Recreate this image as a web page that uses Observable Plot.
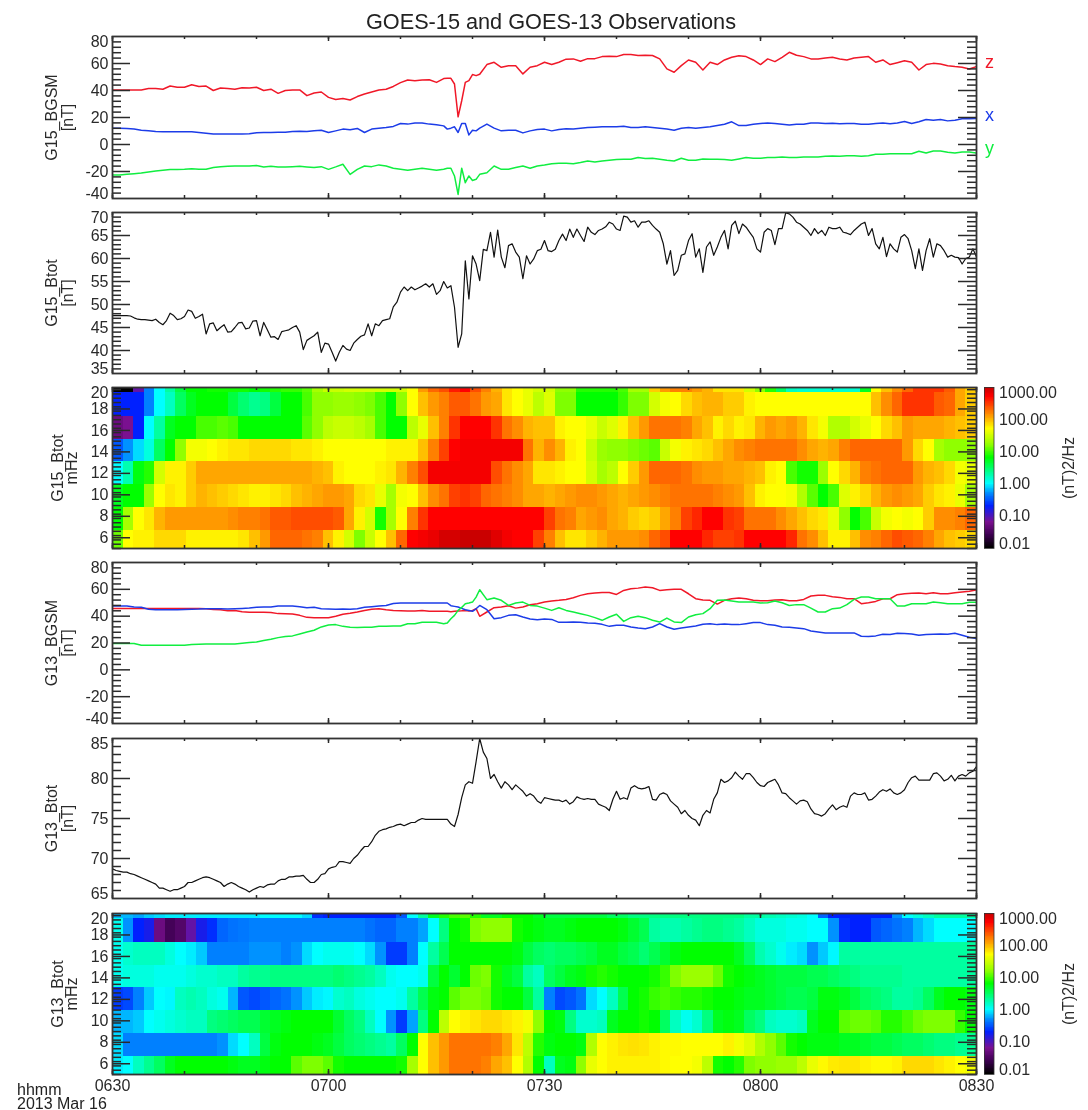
<!DOCTYPE html>
<html><head><meta charset="utf-8">
<style>
html,body{margin:0;padding:0;background:#fff}
#page{position:relative;width:1088px;height:1110px;overflow:hidden;filter:blur(.4px);font-family:"Liberation Sans",Arial,sans-serif;color:#222}
#page svg{position:absolute;background:transparent}
#title{position:absolute;left:0;width:1102px;top:8px;text-align:center;font-size:21.7px;line-height:28px;color:#222}
#stamp{position:absolute;left:17px;top:1083px;font-size:16px;line-height:13.5px;color:#222}
</style>
<script src="https://cdn.jsdelivr.net/npm/d3@7"></script>
<script src="https://cdn.jsdelivr.net/npm/@observablehq/plot@0.6"></script>
</head><body><div id="page"><div id="title">GOES-15 and GOES-13 Observations</div><div id="stamp">hhmm<br>2013 Mar 16</div></div>
<script>
// ---- time grids (minutes after 06:30)
const vecT = [...d3.range(0,47), 46.5,47,47.5,48,48.5,49,49.5,50,50.5, ...d3.range(51,121)].sort((a,b)=>a-b);
const vecTimes = [...new Set(vecT)];
const timeLabels = ["0630","0700","0730","0800","0830"];
const timeLabelMinutes = [0,30,60,90,120];

// ---- GOES-15 BGSM
const g15z = [40.4,40.4,40.4,40.4,40.4, 41.4,41.4,40.9,43.3,42.4, 42.4,44.3,42.9,43.3,40, 41.9,41.4,40.9,42.1,41.9,
 42.4,40,41,37.9,40, 40.4,40.4,36.2,38.2,38.9, 34.9,33.4,34,33,35.5, 37.4,38.9,40.4,40.9,43, 45.8,47.8,47.3,47.8,48, 46,48.8,
 49,49,44.8,20.5,32.4,46,47.3,51.8,51,
 52,59.2,60.9,57.2,58.4, 58.4,52.3,57.2,58.4,60.9, 59.2,60.9,63.2,63.4,61.7, 63.6,63.6,65.1,65.4,65.1, 66.6,66.6,65.9,66.1,65.9,
 63.4,56,53.5,58.4,62.6, 60.9,55.2,60.9,59.2,62.6, 64.6,65.8,65.1,62.6,59.2, 63.4,61.4,64.6,68.3,66.1, 65.1,63.4,63.4,64.1,64.6,
 63.4,62.6,64.1,64.6,65.1, 60.9,62.6,59.2,60.6,62.1, 60.9,55.2,59.2,60.1,59.7, 58.4,57.7,57.2,55.9,57.7];
const g15x = [12.1,12.1,11.9,11.4,10.6, 10.1,9.6,9.4,9.4,9.4, 9.4,9.4,8.9,8.4,7.7, 7.7,7.7,7.7,7.7,7.9, 8.7,8.9,8.9,9.1,9.1,
 9.6,9.9,9.6,10.1,10.6, 8.9,10.1,11.4,10.9,11.9, 8.9,11.4,12.1,12.6,13.4, 15.6,15.1,16,16,15.1, 14.6,13.8,
 11.4,12.1,13.1,8.9,15.6,15.6,7.1,10.6,10.1,
 12.1,15.1,12.1,10.1,10.6, 10.6,8.6,10.1,11.1,11.4, 10.1,11.1,11.6,11.4,12.1, 12.6,12.8,13.1,13.1,13.1, 13.6,12.6,12.6,13.1,12.6,
 12.1,11.4,10.6,12.1,12.6, 12.1,12.6,13.1,14,15, 16.8,14,14,15,15.5, 16,15.5,15,14.5,15, 15,16,16,15.5,15.8,
 15.3,15.5,15.5,15,15, 15.5,16,15.3,16,17, 15.5,16.8,18.5,18,18.5, 17.5,18,19,19,19.2];
const g15y = [-22.6,-22.6,-22.1,-21.6,-21.1, -20.3,-19.6,-19.1,-18.6,-18.6, -18.4,-17.9,-18.4,-18.4,-17.1, -16.4,-16.1,-15.9,-15.9,-15.9,
 -15.6,-16.6,-16.1,-16.6,-16.6, -16.4,-16.1,-16.6,-17.1,-16.4, -18.4,-16.6,-14.6,-22.1,-18.4, -15.9,-16.4,-15.1,-15.9,-17.6, -18.4,-19.1,-18.4,-17.6,-18.4, -19.1,-18.4,
 -17.6,-17.6,-23.3,-37,-17.6,-28.3,-23.3,-26.6,-25.8,
 -22.1,-20.9,-15.9,-18.4,-18.4, -17.1,-15.9,-17.6,-15.9,-15.2, -14.2,-13.9,-13.9,-14.2,-13.4, -12.2,-12.9,-12.2,-11.7,-11.2, -10.9,-10.9,-9.7,-10.4,-10.2,
 -10.9,-11.7,-12.2,-10.2,-11.7, -11.7,-10.7,-11,-11,-11.2, -11.7,-10.7,-9.7,-10.2,-10.2, -9.7,-9.7,-9.2,-9.7,-9.7, -9.2,-9.2,-9.2,-8.7,-8.5,
 -8.7,-8.3,-8.3,-8.7,-8.3, -7.3,-7.3,-6.8,-6.8,-6.8, -6.8,-5,-6.3,-4.8,-4.8, -5.8,-6.3,-5.5,-5.5,-6.3];

// ---- GOES-15 Btot, half-minute samples
const g15Btot = [47.6,47.6,47.6,47.6,47.6,47.5,47.1,46.8,46.7,46.7, 46.6,46.5,46.8,46.1,45.6,46.5,48.1,47.6,46.7,46.9,
 47.4,48.8,48.5,47,47.4,47.9,43.6,45.8,46,44.3, 45,45.6,44,44.1,45,46,46.1,44.7,44.9,46.4,
 46.5,43.2,46.1,44.5,42.9,43,42.4,44.1,44.3,44.5, 45,45.4,44,40.2,42.2,42.7,43.2,44,39.6,41.6,
 41.4,39.6,37.7,39.6,41.1,40.3,40,41.6,42.4,43.1, 43.4,45.8,43.2,45.8,45.4,46.5,46.7,46.9,49.5,50.5,
 52.7,53.8,53,53.8,53.2,53.6,54,54.5,53.8,54.5, 52.2,53,55,53.6,54.1,49.4,40.7,43.6,59.5,51.2,
 60.6,58.8,55.2,62,61.7,65.7,60.3,66.2,60.3,58, 62.8,63.2,61.4,60.3,55.6,60.6,58.8,59.9,61.7,62,
 63.9,61.7,61.5,62,63.9,65.3,63.9,66.4,64.6,66.4, 65,63.7,66.8,65.7,65.2,66.1,66.4,66.9,67.9,67.5,
 66.4,66.1,69.2,69,67.9,68.2,66.8,67.9,67.9,68.2, 67.2,66.4,65.7,63.2,58.8,61.7,56.3,57.4,60.7,61,
 63.9,65.4,60.3,62.1,57,62.5,63.6,60.7,62.5,64.6, 66.1,62.1,67.2,68.1,65.4,67.5,66.8,65.7,64.6,62.1,
 61.4,65.7,66.5,66.1,63,66.5,66.5,69.9,69.7,69, 67.9,67.5,66.8,66.1,65,66.5,65.4,66.1,65,66.8,
 66.5,66.5,66.8,65.7,65.5,65.2,66.1,66.8,67.5,67.9, 65,66.5,63.2,62.1,64.6,60.4,63.2,62.1,61.4,64.6,
 65.2,64.3,61.7,57.8,62.1,57.4,61.7,64.3,60.3,63.2, 62.8,61.7,60.3,60.7,60.3,60.2,58.8,60,60.3,62.1, 60.3];

// ---- GOES-13 BGSM
const g13z = [45.8,45.8,45.8,45.8,45.8, 45.8,45.8,45.8,45.8,45.8, 45.8,45.8,45.8,45.5,45, 44.8,44.1,44.3,43.3,42.9, 42.9,42.9,42.7,41.9,41.8,
 41.6,40.6,39.1,38.9,38.9, 38.9,39.9,41.4,42.1,43.1, 44.3,45.1,45.6,44.8,44.3, 44.1,43.9,43.9,44.3,43.6, 43.6,43.6,
 43.6,43.3,43.6,43.9,44,44.3,43.8,44.3,45.6,
 39.9,43.1,46.3,46.8,47.8, 46,46.8,48.5,49.3,50.5, 51.3,51.8,52.5,53.7,55.5, 56.7,57.2,57.7,57.7,56.2, 59.2,60.4,60.9,61.7,61.2,
 59.2,59.7,60,60,56.7, 53,52,51.8,49,51.8, 53,53.5,53,51.8,51.5, 51.5,52,52.3,51.5,51.5, 52.5,55,55.5,55.5,54.5,
 54,53,53,49.3,50, 51,53,53,56,56.7, 57,57.2,56.7,57.5,56.7, 56.7,57.5,58,58.5,59.5];
const g13x = [47.6,47.6,47.6,46.8,46.6, 45.1,44.8,44.8,44.8,44.8, 45,45.2,45.3,45.6,45.6, 45.6,45.4,45.6,45.8,46.1, 46.6,46.8,46.8,47.6,47.6,
 47.6,47.1,46.3,46.6,45.6, 45.3,45.1,45.3,45.1,45.6, 46.6,47.1,47.6,48,49.5, 49.8,49.8,49.8,49.8,49.8, 49.8,49.8,
 49.8,47.8,47.3,46.8,45.8,44.8,44.2,43.6,45.5,
 48,44.8,38.1,38.9,40.6, 41.1,39.4,37.9,37.4,37.9, 37.6,35.4,35.4,35.6,35.4, 34.9,34.7,33.9,32.4,33.2, 33.2,31.9,31.2,30.7,31.9,
 34.4,31.9,30.2,31.2,32, 32.7,33.9,34.4,33.7,34.2, 33.7,33.7,34.4,35.2,35.2, 33.7,33.2,32,31.8,31.2, 30.7,29,28.2,27.5,27.5,
 27.5,27.5,27.5,25,24.8, 25.3,26.5,26.3,27.2,27, 26.7,25.8,26.3,26.5,26.7, 26.5,27.2,25.8,24.3,23.3];
const g13y = [19.6,19.6,19.6,19.6,18.3, 18.3,18.3,18.3,18.3,18.3, 18.3,18.8,19,19.3,19.3, 19.3,19.3,19.3,19.8,20.3, 20.8,21.8,22.8,24,24.8,
 25.3,26.7,28.2,29.5,32, 33.4,33.7,32.4,31.7,31.5, 31.7,31.7,32.4,32.4,32.7, 32.7,34.4,34.4,35.4,35.4, 35.4,34.4,
 34.9,38.1,40.6,44.3,46.5,49.3,49.8,50.5,54.2,
 59.7,52.3,53.5,51.8,48, 49.8,50.5,48,47.5,46, 44.3,46.3,44.3,43.1,41.8, 40.6,38.9,36.9,39.4,41.4, 36.1,38.9,39.9,38.9,36.9,
 35.6,38.6,35.7,35.2,39.4, 41.1,41.9,45.6,51.8,52, 51.3,50.5,50.5,50.5,49.8, 50,51.3,50,48,48.6, 48.6,46,43.1,43.1,45.6,
 46,48.6,52.5,54.3,54.3, 53,53,53,47.6,47.6, 49.3,49.3,49.3,50.5,50, 49.3,49.3,49.3,50.3,50.3];

// ---- GOES-13 Btot, half-minute samples
const g13Btot = [68.7,68.5,68.4,68.3,68.3,68.1,68,67.8,67.6,67.4, 67.2,67,66.8,66.3,66.3,66.1,65.9,66.1,66.1,66.3,
 66.5,67,67,67.2,67.4,67.6,67.7,67.6,67.4,67.2, 67,66.5,66.8,67,66.8,66.5,66.3,66.1,65.8,66.1,
 66.3,66.5,66.4,66.7,66.8,66.8,67.2,67.4,67.4,67.7, 67.7,67.8,67.8,67.9,67.4,67,67,67.4,68,68.1,
 68.7,68.9,69,69.6,69.6,69.5,69.4,70,70.4,71, 71.5,71.5,72.1,72.9,73.4,73.6,73.7,73.9,74,74.2,
 74.3,74.1,74.3,74.5,74.5,74.8,75,74.9,74.9,74.9, 74.9,74.9,74.9,74.9,74.3,74,75.5,77.6,79.2,79.6,
 79.4,82.1,85,83.3,82.5,80,80.5,79.6,78.8,79.6, 79.2,78.6,79.2,78.8,78.4,77.8,78.1,77.8,77.2,76.9,
 77.6,77.5,77.4,77.3,77.3,77.1,77.3,76.8,77.1,77.7, 77.5,77.4,77.5,77.4,77.4,76.8,76.6,76.4,76,77.4,
 78.4,77.4,77.6,77.4,78.8,79.1,78.8,78.7,78.8,79, 77.4,77.3,78,78.2,78,77.2,76.8,76.4,75.6,76,
 75.4,75,74.8,74.1,75.4,76,75.7,77.4,78.2,79.9, 79.5,79.7,80.1,80.8,80.3,79.9,80.6,80.6,80.1,79.5,
 79.1,79,79.5,79.7,79.9,79.2,78.2,78.1,77.6,77.2, 76.8,77.2,77.3,77.1,76.2,75.6,75.5,75.3,75.6,76.2,
 76.7,76.1,76.4,76.6,76.4,77.8,78.2,78,78,78.2, 77.3,77.4,77.8,78.3,78.6,78.4,78.7,78.2,78,78.2,
 78.6,79.5,80.1,80.3,79.8,79.8,79.8,79.8,80.6,80.7, 80.3,79.7,79.9,80.4,79.7,80.3,80.5,80.3,80.7,80.9, 81.5];

// ---- Spectrogram: log10 power, one array per frequency band, 82 time columns
const bandEdges = [20,19.56,17.32,15.2,13.09,10.94,8.82,6.71,5];
const g15Spec = [
 [-2,-2,-1.1,-.35,0,.3,.6,.8,.8,.85, .85,.85,.85,.8,.85,.9,.95,.95,1.05,1.3, 1.45,1.45,1.5,1.5,1.5,1.5,1.5,1.5,1.7,2.1, 2.3,2.4,2.6,2.7,2.4,2.2,2,1.8,1.7,1.6, 1.5,
  1.5,1.2,1.2,.9,.9,.9,.9,1,1.3, 1.3,1.9,2.1,2.2,2.2,2.1,2,1.8,1.8,1.8, 1.5,1.2,.9,.5,.2,.15,.15,.15,.15,.15, .15,.7,1.7,1.95,2.15,2.3,2.5,2.5,2.5,2.35, 2.05,1.9],
 [-.7,-.7,-.7,-.35,0,.2,.5,.7,.8,.8, .8,.6,.45,.35,.4,.6,.8,.8,1,1.2, 1.2,1.25,1.25,1.2,1.15,1,.8,1.2,1.7,1.95, 2.1,2.2,2.35,2.35,2.25,2.1,2.05,1.8,1.7,1.6, 1.4,
  1.55,1.15,1.15,.8,.8,.8,.8,.95,1.15, 1.15,1.5,1.65,1.7,1.85,1.95,2,2,1.9,1.9, 1.75,1.7,1.7,1.7,1.7,1.7,1.7,1.7,1.7,1.7, 1.7,1.7,1.95,2.15,2.3,2.5,2.5,2.5,2.35,2.3, 2.05,1.9],
 [-1.3,-1.2,-.7,0,.3,.7,.8,.8,1,1, 1.05,1,.8,.8,.8,.8,.8,.8,1.05,1.2, 1.4,1.45,1.45,1.4,1.3,1,.8,.8,1.4,1.6, 1.95,2.2,2.5,2.7,2.7,2.7,2.5,2.25,2.15,2, 1.95,
  1.95,1.75,1.7,1.7,1.6,1.45,1.55,1.75,1.95, 2.1,2.25,2.25,2.25,2.2,2.05,1.95,1.75,1.85,1.75, 1.8,2,2.1,2.05,2.1,2,1.8,1.65,1.35,1.35, 1.5,1.6,1.7,1.85,1.95,2.1,2.05,2.05,2.05,2, 1.95,1.9],
 [-.5,-.3,-.1,.1,.5,.8,1.2,1.65,1.65,1.7, 1.75,1.8,1.8,1.85,1.85,1.85,1.85,1.8,1.8,1.75, 1.7,1.7,1.7,1.7,1.7,1.7,1.75,1.75,1.75,1.95, 2.2,2.45,2.7,2.75,2.75,2.75,2.75,2.75,2.75,2.25, 2,
  2.15,2,1.75,1.7,1.45,1.25,1.2,1.2,1.15, 1.1,1.05,1.45,1.65,1.75,1.8,1.85,1.95,2.05,2.15, 2.2,2.25,2.25,2.25,2.25,2.15,2.05,2,2.05,2.2, 2.3,2.3,2.3,2.3,2.3,2.1,1.85,1.7,1.3,1.2, 1.2,1.2],
 [0,.25,.75,.9,1.5,1.75,1.75,1.9,2.05,2.05, 2.05,2.05,2.05,2.05,2.05,2.05,2.05,2.05,2.05,2, 1.95,1.75,1.7,1.7,1.7,1.75,1.8,2,2.2,2.4, 2.75,2.75,2.75,2.75,2.75,2.75,2.4,2.25,2.15,2.05, 1.8,
  1.8,1.75,1.7,1.7,1.5,1.3,1.4,1.7,1.9, 2.1,2.3,2.3,2.3,2.25,2.15,2.1,2.1,2.05,2.05, 2,1.95,1.75,1.7,1,.85,.85,1.25,1.7,1.85, 2,2.2,2.25,2.3,2.3,2.3,2.1,2,1.95,1.85, 1.65,1.6],
 [.7,.8,.8,1.25,1.7,1.8,1.75,1.9,2,1.95, 1.9,1.85,1.8,1.75,1.75,1.8,1.85,1.95,2,2.05, 2.1,2.1,2.05,1.85,1.8,1.6,1.3,1.65,1.7,1.95, 2.15,2.25,2.45,2.5,2.45,2.3,2.25,2.2,2.15,2.05, 2.05,
  2,2.05,2.1,2.15,2.15,2.1,2.05,2,2.05, 2.1,2.15,2.2,2.25,2.25,2.25,2.25,2.2,2.15,2.1, 1.95,1.75,1.7,1.7,1.65,1.35,1.05,.8,1,1.55, 1.75,1.85,2,2.1,2.15,2.1,2.05,1.9,1.8,1.75, 1.6,1.3],
 [.8,1.3,1.7,1.8,2,2.1,2.1,2.1,2.1,2.1, 2.1,2.15,2.2,2.2,2.25,2.35,2.35,2.4,2.4,2.4, 2.4,2.35,2.05,1.75,1.5,.85,1.3,1.7,2.2,2.5, 2.7,2.7,2.7,2.7,2.7,2.7,2.7,2.7,2.7,2.7, 2.7,
  2.45,2.25,2.2,2.05,2.1,2.15,2.05,2,1.9, 1.85,1.9,2.05,2.2,2.45,2.55,2.7,2.7,2.5,2.45, 2.25,2.25,2.25,2.15,2.05,1.95,1.85,1.8,1.6,1.2, .8,1,1.45,1.65,1.7,1.65,1.7,1.9,2.15,2.15, 2.2,2.3],
 [1.1,1.7,1.75,1.75,1.85,1.85,1.85,1.75,1.75,1.75, 1.75,1.75,1.8,1.95,2.1,2.3,2.3,2.3,2.25,2.2, 1.95,1.75,1.5,1.15,1.45,1.7,1.95,2.3,2.7,2.75, 2.8,2.9,2.9,2.95,2.95,2.95,2.85,2.75,2.7,2.7, 2.45,
  2.2,1.95,1.8,1.8,1.9,2,2.1,2.1,2.1, 2.15,2.3,2.4,2.7,2.7,2.7,2.55,2.45,2.45,2.5, 2.7,2.7,2.7,2.7,2.55,2.25,2.15,1.95,1.75,1.75, 1.95,2.15,2.2,2.3,2.4,2.35,2.3,2.2,2.05,1.95, 1.9,1.85]
];
const g13Spec = [
 [-.2,-.2,-.25,-.15,-.1,-.05,-.05,-.05,-.05,-.05, -.05,-.05,-.05,-.05,0,0,0,0,-.1,-.65, -.7,-.7,-.7,-.7,-.7,-.7,-.7,-.5,0,.3, .7,.9,1,1.05,.9,.7,.7,.8,.8,.8, .7,
  .6,.6,.6,.6,.6,.6,.5,.5,.4, .4,.4,.4,.4,.4,.4,.4,.4,.4,.4, .3,.3,.25,.2,.15,.1,0,-.45,-.7,-.7, -.7,-.7,-.7,-.7,-.3,0,.1,.2,.3,.3, .3,.3],
 [.05,-.3,-.7,-.8,-1.3,-1.55,-1.45,-1.1,-.8,-.65, -.45,-.4,-.38,-.35,-.35,-.35,-.35,-.35,-.35,-.35, -.35,-.35,-.35,-.35,-.4,-.45,-.45,-.35,-.35,-.25, 0,.4,.8,.85,1.15,1.2,1.2,1.2,.85,.8, .75,
  .7,.7,.75,.8,.8,.8,.8,.75,.65, .55,.3,.25,.25,.3,.35,.4,.4,.35,.3, .2,.1,.1,.1,.05,.05,0,0,-.3,-.65, -.7,-.7,-.5,-.45,-.4,-.35,-.2,-.1,0,0, 0,0],
 [.05,.15,.2,.2,.2,.1,0,-.05,-.15,-.35, -.35,-.35,-.35,-.3,-.3,-.3,-.35,-.3,-.1,0, .05,.05,.05,0,-.1,-.3,-.6,-.6,-.35,0, .3,.55,.8,.8,.8,.8,.8,.8,.75,.6, .5,
  .45,.5,.5,.55,.6,.7,.7,.6,.55, .45,.55,.65,.75,.8,.8,.8,.8,.8,.7, .5,.25,.15,.05,-.05,-.1,-.3,-.15,-.02,.3, .3,.3,.3,.3,.3,.3,.3,.3,.3,.3, .3,.3],
 [.05,.1,.1,.1,.05,.05,.05,.1,.15,.15, .2,.2,.3,.35,.35,.4,.4,.4,.4,.4, .4,.45,.4,.35,.3,.2,.05,0,0,.05, .6,.8,.65,.8,1.1,1.15,.85,.7,.6,.3, .2,
  .5,.6,.7,.75,.85,.9,.85,.8,.8, .8,.85,.95,1.15,1.25,1.25,1.25,1.1,.85,.8, .75,.7,.65,.6,.6,.6,.55,.55,.5,.45, .4,.35,.35,.35,.35,.3,.3,.3,.3,.3, .3,.3],
 [-.6,-.55,-.35,-.15,0,-.02,.2,.25,.2,.1, .05,-.2,-.5,-.55,-.5,-.45,-.4,-.3,-.15,-.05, -.02,.15,.2,.1,.05,0,0,.05,.3,.55, .75,.8,1.05,1.15,1.15,1.1,.85,.8,.8,.6, .3,
  -.35,-.55,-.5,-.4,-.1,0,.2,.55,.8, .85,.95,1,.95,.9,.9,.85,.8,.8,.75, .7,.7,.65,.6,.55,.55,.6,.75,.75,.7, .6,.5,.45,.4,.3,.3,.35,.5,.7,.8, .8,.75],
 [-.2,-.2,-.15,0,.05,.1,.15,.2,.2,.4, .45,.5,.55,.55,.65,.7,.75,.8,.8,.8, .8,.65,.5,.4,.2,0,-.3,-.6,-.25,.4, .8,1.4,1.7,1.75,1.8,1.85,1.85,1.8,1.75,1.65, 1.2,
  .8,.75,.4,.15,.15,.2,.7,.8,.8, .85,.8,.5,.2,.05,.15,.4,.7,.75,.7, .5,.4,.2,.15,.15,.2,.7,.8,.8,1.05, 1.1,1.1,1.05,.9,.9,1,1.1,1.15,1.15,1.15, .95,.8],
 [-.1,-.35,-.35,-.35,-.35,-.35,-.35,-.35,-.35,-.35, -.3,-.1,0,.2,.6,.75,.8,.8,.8,.75, .7,.6,.5,.45,.4,.35,.3,.5,.8,1.7, 1.95,2.1,2.25,2.25,2.25,2.25,2.2,2.05,1.8,1.4, .9,
  .75,.8,.8,.75,1.35,1.7,1.75,1.8,1.82, 1.8,1.75,1.72,1.72,1.7,1.7,1.7,1.7,1.75,1.65, 1.55,1.35,1.2,1.05,.85,.8,.75,.75,.75,.7, .7,.65,.6,.6,.55,.5,.5,.45,.4,.4, .35,.35],
 [-.05,0,.2,.35,.5,.7,.8,.8,.8,.8, .8,.75,.7,.7,.75,.8,.8,1.05,1.15,1.15, 1.05,.85,.8,.8,.8,.8,.8,.85,1.3,1.7, 1.95,2.1,2.25,2.25,2.25,2.2,2.05,1.95,1.7,1.35, .8,
  .2,.7,.75,1.2,1.6,1.7,1.75,1.75,1.75, 1.75,1.75,1.72,1.7,1.7,1.65,1.4,.85,.8,.9, 1.15,1.2,1.2,1.25,1.25,1.4,1.6,1.72,1.78,1.8, 1.8,1.75,1.72,1.72,1.75,1.85,1.85,1.85,1.8,1.75, 1.7,1.65]
];

// ---- Colour table
const levelStops = [-2,-1.6,-1.2,-.7,-.35,0,.4,.8,1.2,1.7,2.2,2.7,3];
const colorStops = ["#000000","#3c0050","#7a1090","#0020ff","#0080ff","#00ffff","#00ff80","#00ff00","#90ff00","#ffff00","#ff8000","#ff0000","#c00000"];
const barLabels = ["0.01","0.10","1.00","10.00","100.00","1000.00"];
const barLevels = [-2,-1,0,1,2,3];
const colorOpts = {type:"linear",domain:levelStops,range:colorStops};

// ---- Shared style
const FONT = "Liberation Sans";
const INK = "#2a2a2a";
const RED="#f01828", BLUE="#1c3ce8", GREEN="#10ee40";
const minorX = d3.range(0,121,10), majorX = d3.range(0,121,30);
const PW = 864, MAJ = 18, MIN = 9;
const page = document.getElementById("page");

function panel({top,bottom,yDomain,majors,minors,labels,ylab,ylab2,labX=-61,lab2X=-45,marks=[],xlabels=false}){
  const pad = 7, pbottom = xlabels ? 30 : 7;
  const txt = {fontFamily:FONT,fontSize:16,fill:INK};
  const [lo,hi] = yDomain;
  const mid = labels.filter(d=>d!==lo&&d!==hi);
  const labelAt = (vals,dy)=>Plot.text(vals,{y:d=>d,text:d=>String(d),frameAnchor:"left",textAnchor:"end",dx:-4,dy,...txt});
  const ps = {stroke:INK,strokeWidth:1.5};
  const svg = Plot.plot({
    width:1088,height:bottom-top+pad+pbottom,marginLeft:112,marginRight:112,marginTop:pad,marginBottom:pbottom,
    x:{domain:[0,120],axis:null},y:{domain:yDomain,axis:null},color:colorOpts,
    marks:[
      ...marks,
      Plot.tickY(minors,{y:d=>d,insetRight:PW-MIN,...ps}),
      Plot.tickY(majors,{y:d=>d,insetRight:PW-MAJ,...ps}),
      Plot.tickY(minors,{y:d=>d,insetLeft:PW-MIN,...ps}),
      Plot.tickY(majors,{y:d=>d,insetLeft:PW-MAJ,...ps}),
      Plot.tickX(minorX,{x:d=>d,insetBottom:bottom-top-3,...ps}),
      Plot.tickX(minorX,{x:d=>d,insetTop:bottom-top-3,...ps}),
      Plot.tickX(majorX,{x:d=>d,insetBottom:bottom-top-5,...ps}),
      Plot.tickX(majorX,{x:d=>d,insetTop:bottom-top-5,...ps}),
      Plot.frame({stroke:"#333",strokeWidth:1.8}),
      labelAt(mid,0),
      labelAt(labels.filter(d=>d===hi),5),
      labelAt(labels.filter(d=>d===lo),-5),
      Plot.text([ylab],{frameAnchor:"left",textAnchor:"middle",dx:labX,rotate:-90,...txt}),
      Plot.text([ylab2],{frameAnchor:"left",textAnchor:"middle",dx:lab2X,rotate:-90,...txt}),
      ...(xlabels?[Plot.text(timeLabelMinutes,{x:d=>d,text:(d,i)=>timeLabels[i],frameAnchor:"bottom",dy:16,...txt})]:[])
    ]
  });
  svg.style.top = (top-pad)+"px"; svg.style.left="0";
  page.appendChild(svg);
}

function vectorMarks(z,x,y){
  const row = (vals)=>vals.map((v,i)=>({t:vecTimes[i],v}));
  const opts = {x:"t",y:"v",strokeWidth:1.5,clip:true};
  return [Plot.line(row(z),{...opts,stroke:RED}),Plot.line(row(x),{...opts,stroke:BLUE}),Plot.line(row(y),{...opts,stroke:GREEN})];
}
function btotMarks(vals){
  return [Plot.line(vals.map((v,i)=>({t:i*0.5,v})),{x:"t",y:"v",stroke:"#111",strokeWidth:1.2,clip:true})];
}
function specMarks(spec){
  const step = 120/spec[0].length;
  const cells = spec.flatMap((vals,r)=>vals.map((v,k)=>({t1:k*step,t2:(k+1)*step,f1:bandEdges[r+1],f2:bandEdges[r],v})));
  return [Plot.rect(cells,{x1:"t1",x2:"t2",y1:"f1",y2:"f2",fill:"v",shapeRendering:"crispEdges"})];
}
function colorbar(top,bottom){
  const ramp = d3.range(-2,3,0.025).map(v=>({a:v,b:v+0.03,v}));
  const svg = Plot.plot({
    width:108,height:bottom-top+14,marginLeft:4,marginRight:94.5,marginTop:7,marginBottom:7,
    x:{axis:null},y:{domain:[-2,3],axis:null},color:colorOpts,
    marks:[
      Plot.rect(ramp,{y1:"a",y2:"b",fill:"v",shapeRendering:"crispEdges"}),
      Plot.frame({stroke:"#333",strokeWidth:.8}),
      Plot.text(barLevels.slice(1,5),{y:d=>d,text:(d)=>barLabels[barLevels.indexOf(d)],frameAnchor:"right",textAnchor:"start",dx:5,fontFamily:FONT,fontSize:16,fill:INK}),
      Plot.text([3],{y:d=>d,text:()=>barLabels[5],frameAnchor:"right",textAnchor:"start",dx:5,dy:5,fontFamily:FONT,fontSize:16,fill:INK}),
      Plot.text([-2],{y:d=>d,text:()=>barLabels[0],frameAnchor:"right",textAnchor:"start",dx:5,dy:-5,fontFamily:FONT,fontSize:16,fill:INK}),
      Plot.text(["(nT)2/Hz"],{frameAnchor:"right",textAnchor:"middle",dx:75,rotate:-90,fontFamily:FONT,fontSize:16,fill:INK})
    ]
  });
  svg.style.top=(top-7)+"px"; svg.style.left="980px"; svg.style.overflow="visible";
  page.appendChild(svg);
}

const bgsmTicks = {yDomain:[-40,80],majors:[60,40,20,0,-20],minors:d3.range(-40,81,4).filter(d=>d%20!==0),labels:[80,60,40,20,0,-20,-40]};
const specTicks = {yDomain:[5,20],majors:[18,16,14,12,10,8,6],minors:d3.range(5,20.01,.4).filter(d=>Math.abs(d/2-Math.round(d/2))>.01),labels:[20,18,16,14,12,10,8,6]};

panel({top:36,bottom:198,...bgsmTicks,ylab:"G15_BGSM",ylab2:"[nT]",marks:[...vectorMarks(g15z,g15x,g15y),
  ...["z","x","y"].map((s,i)=>Plot.text([s],{x:()=>120,y:()=>[61,21.5,-2.5][i],dx:13,textAnchor:"middle",fontFamily:FONT,fontSize:18,fill:[RED,BLUE,GREEN][i],clip:false}))]});
panel({top:212,bottom:373,yDomain:[35,70],majors:[65,60,55,50,45,40],minors:d3.range(35,71).filter(d=>d%5!==0),labels:[70,65,60,55,50,45,40,35],ylab:"G15_Btot",ylab2:"[nT]",marks:btotMarks(g15Btot)});
panel({top:387,bottom:548,...specTicks,ylab:"G15_Btot",ylab2:"mHz",labX:-55,lab2X:-41,marks:specMarks(g15Spec)});
panel({top:562,bottom:723,...bgsmTicks,ylab:"G13_BGSM",ylab2:"[nT]",marks:vectorMarks(g13z,g13x,g13y)});
panel({top:738,bottom:898,yDomain:[65,85],majors:[80,75,70],minors:d3.range(65,86).filter(d=>d%5!==0),labels:[85,80,75,70,65],ylab:"G13_Btot",ylab2:"[nT]",marks:btotMarks(g13Btot)});
panel({top:913,bottom:1074,...specTicks,ylab:"G13_Btot",ylab2:"mHz",labX:-55,lab2X:-41,marks:specMarks(g13Spec),xlabels:true});
colorbar(387,548);
colorbar(913,1074);
</script></body></html>
